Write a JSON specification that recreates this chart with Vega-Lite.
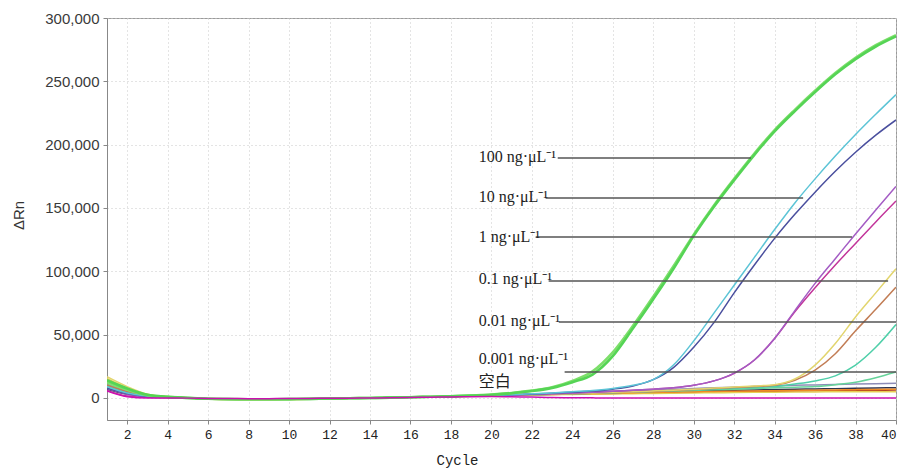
{
  "$schema": "https://vega.github.io/schema/vega-lite/v6.json",
  "width": 789,
  "height": 402,
  "autosize": "none",
  "padding": {"left": 107, "top": 18, "right": 8, "bottom": 51},
  "background": "white",
  "config": {
    "view": {"stroke": "#9a9a9a", "strokeWidth": 1},
    "axis": {"gridColor": "#c8c8c8", "gridDash": [1, 3], "gridWidth": 1, "domainColor": "#888", "tickColor": "#888", "tickSize": 4}
  },
  "datasets": {
    "curves": [
      {"c": 1, "g1": 14000, "g2": 12500, "cy": 9000, "nv": 8000, "pu": 7500, "mg": 6000, "ye": 16800, "br": 10300, "te": 9500, "lg": 11000, "f1": 8500, "f2": 7000, "f3": 10000, "f4": 15500, "f5": 9000, "f6": 5500},
      {"c": 2, "g1": 7500, "g2": 6500, "cy": 4000, "nv": 3500, "pu": 3000, "mg": 1500, "ye": 9000, "br": 5000, "te": 4500, "lg": 5500, "f1": 4000, "f2": 3000, "f3": 5000, "f4": 8000, "f5": 4000, "f6": 1000},
      {"c": 3, "g1": 2500, "g2": 2200, "cy": 1500, "nv": 1200, "pu": 1000, "mg": 500, "ye": 3000, "br": 1800, "te": 1500, "lg": 2000, "f1": 1500, "f2": 1000, "f3": 1800, "f4": 2700, "f5": 1500, "f6": 0},
      {"c": 4, "g1": 900, "g2": 850, "cy": 700, "nv": 600, "pu": 500, "mg": 200, "ye": 1000, "br": 800, "te": 700, "lg": 800, "f1": 700, "f2": 500, "f3": 800, "f4": 1000, "f5": 700, "f6": 0},
      {"c": 5, "g1": 100, "g2": 50, "cy": 0, "nv": 0, "pu": -100, "mg": -100, "ye": 0, "br": 100, "te": 0, "lg": 50, "f1": 0, "f2": 0, "f3": 100, "f4": 0, "f5": 50, "f6": -100},
      {"c": 6, "g1": -600, "g2": -550, "cy": -500, "nv": -500, "pu": -500, "mg": -400, "ye": -800, "br": -600, "te": -500, "lg": -600, "f1": -500, "f2": -500, "f3": -600, "f4": -800, "f5": -600, "f6": -300},
      {"c": 7, "g1": -900, "g2": -850, "cy": -800, "nv": -800, "pu": -700, "mg": -600, "ye": -1200, "br": -900, "te": -800, "lg": -900, "f1": -800, "f2": -700, "f3": -900, "f4": -1200, "f5": -900, "f6": -400},
      {"c": 8, "g1": -1000, "g2": -950, "cy": -900, "nv": -900, "pu": -800, "mg": -700, "ye": -1400, "br": -1000, "te": -900, "lg": -1000, "f1": -900, "f2": -800, "f3": -1000, "f4": -1400, "f5": -1000, "f6": -500},
      {"c": 9, "g1": -1000, "g2": -1000, "cy": -900, "nv": -900, "pu": -800, "mg": -700, "ye": -1400, "br": -1000, "te": -900, "lg": -1000, "f1": -900, "f2": -800, "f3": -1000, "f4": -1400, "f5": -1000, "f6": -500},
      {"c": 10, "g1": -900, "g2": -900, "cy": -800, "nv": -800, "pu": -700, "mg": -600, "ye": -1200, "br": -900, "te": -800, "lg": -900, "f1": -800, "f2": -700, "f3": -900, "f4": -1200, "f5": -900, "f6": -400},
      {"c": 11, "g1": -700, "g2": -700, "cy": -600, "nv": -600, "pu": -600, "mg": -500, "ye": -900, "br": -700, "te": -600, "lg": -700, "f1": -600, "f2": -600, "f3": -700, "f4": -900, "f5": -700, "f6": -300},
      {"c": 12, "g1": -400, "g2": -400, "cy": -400, "nv": -400, "pu": -300, "mg": -300, "ye": -500, "br": -400, "te": -400, "lg": -400, "f1": -400, "f2": -300, "f3": -400, "f4": -500, "f5": -400, "f6": -200},
      {"c": 13, "g1": -200, "g2": -200, "cy": -200, "nv": -200, "pu": -200, "mg": -200, "ye": -250, "br": -200, "te": -200, "lg": -200, "f1": -200, "f2": -200, "f3": -200, "f4": -250, "f5": -200, "f6": -100},
      {"c": 14, "g1": 0, "g2": 0, "cy": 0, "nv": 0, "pu": 0, "mg": 0, "ye": 0, "br": 0, "te": 0, "lg": 0, "f1": 0, "f2": 0, "f3": 0, "f4": 0, "f5": 0, "f6": 0},
      {"c": 15, "g1": 300, "g2": 300, "cy": 300, "nv": 300, "pu": 300, "mg": 300, "ye": 250, "br": 300, "te": 300, "lg": 300, "f1": 300, "f2": 300, "f3": 300, "f4": 250, "f5": 300, "f6": 200},
      {"c": 16, "g1": 650, "g2": 650, "cy": 600, "nv": 600, "pu": 600, "mg": 600, "ye": 550, "br": 600, "te": 600, "lg": 600, "f1": 600, "f2": 600, "f3": 600, "f4": 550, "f5": 600, "f6": 400},
      {"c": 17, "g1": 1000, "g2": 1000, "cy": 900, "nv": 900, "pu": 900, "mg": 900, "ye": 850, "br": 900, "te": 900, "lg": 900, "f1": 900, "f2": 900, "f3": 900, "f4": 850, "f5": 900, "f6": 600},
      {"c": 18, "g1": 1400, "g2": 1400, "cy": 1200, "nv": 1200, "pu": 1200, "mg": 1200, "ye": 1150, "br": 1200, "te": 1200, "lg": 1200, "f1": 1200, "f2": 1200, "f3": 1200, "f4": 1150, "f5": 1200, "f6": 800},
      {"c": 19, "g1": 1900, "g2": 2000, "cy": 1600, "nv": 1550, "pu": 1500, "mg": 1500, "ye": 1450, "br": 1500, "te": 1500, "lg": 1500, "f1": 1550, "f2": 1500, "f3": 1500, "f4": 1450, "f5": 1500, "f6": 1000},
      {"c": 20, "g1": 2600, "g2": 2700, "cy": 2050, "nv": 2000, "pu": 1900, "mg": 1900, "ye": 1850, "br": 1900, "te": 1900, "lg": 1850, "f1": 2000, "f2": 1950, "f3": 1900, "f4": 1850, "f5": 1900, "f6": 1100},
      {"c": 21, "g1": 3800, "g2": 4000, "cy": 2600, "nv": 2500, "pu": 2400, "mg": 2400, "ye": 2300, "br": 2300, "te": 2300, "lg": 2200, "f1": 2500, "f2": 2400, "f3": 2300, "f4": 2200, "f5": 2300, "f6": 1000},
      {"c": 22, "g1": 5500, "g2": 5800, "cy": 3300, "nv": 3100, "pu": 2900, "mg": 2900, "ye": 2700, "br": 2700, "te": 2700, "lg": 2600, "f1": 3000, "f2": 2750, "f3": 2550, "f4": 2400, "f5": 2600, "f6": 700},
      {"c": 23, "g1": 8000, "g2": 8500, "cy": 4000, "nv": 3800, "pu": 3400, "mg": 3400, "ye": 3100, "br": 3000, "te": 3000, "lg": 2900, "f1": 3500, "f2": 3100, "f3": 2800, "f4": 2600, "f5": 2900, "f6": 400},
      {"c": 24, "g1": 12500, "g2": 13500, "cy": 5000, "nv": 4500, "pu": 4000, "mg": 4000, "ye": 3500, "br": 3400, "te": 3400, "lg": 3300, "f1": 4000, "f2": 3450, "f3": 3050, "f4": 2800, "f5": 3200, "f6": 200},
      {"c": 25, "g1": 18500, "g2": 21000, "cy": 6000, "nv": 5500, "pu": 4600, "mg": 4600, "ye": 4000, "br": 3800, "te": 3800, "lg": 3700, "f1": 4500, "f2": 3800, "f3": 3300, "f4": 3000, "f5": 3500, "f6": 100},
      {"c": 26, "g1": 33000, "g2": 36000, "cy": 7500, "nv": 7000, "pu": 5300, "mg": 5300, "ye": 4500, "br": 4300, "te": 4300, "lg": 4200, "f1": 5100, "f2": 4150, "f3": 3550, "f4": 3200, "f5": 3800, "f6": 0},
      {"c": 27, "g1": 55000, "g2": 57000, "cy": 10000, "nv": 9500, "pu": 6200, "mg": 6200, "ye": 5000, "br": 4800, "te": 4800, "lg": 4700, "f1": 5700, "f2": 4500, "f3": 3800, "f4": 3400, "f5": 4100, "f6": 0},
      {"c": 28, "g1": 78000, "g2": 80000, "cy": 14500, "nv": 14500, "pu": 7000, "mg": 7000, "ye": 5600, "br": 5300, "te": 5300, "lg": 5100, "f1": 6300, "f2": 4850, "f3": 4050, "f4": 3600, "f5": 4400, "f6": 0},
      {"c": 29, "g1": 102000, "g2": 104000, "cy": 26000, "nv": 24000, "pu": 8000, "mg": 8000, "ye": 6200, "br": 6000, "te": 5900, "lg": 5500, "f1": 6900, "f2": 5200, "f3": 4300, "f4": 3800, "f5": 4700, "f6": 0},
      {"c": 30, "g1": 128000, "g2": 129000, "cy": 45000, "nv": 40000, "pu": 10000, "mg": 10000, "ye": 7000, "br": 6800, "te": 6500, "lg": 6000, "f1": 7500, "f2": 5500, "f3": 4500, "f4": 4000, "f5": 5000, "f6": 0},
      {"c": 31, "g1": 151000, "g2": 152000, "cy": 67000, "nv": 59500, "pu": 13500, "mg": 13500, "ye": 7800, "br": 7500, "te": 7000, "lg": 6500, "f1": 8000, "f2": 5800, "f3": 4700, "f4": 4150, "f5": 5200, "f6": 0},
      {"c": 32, "g1": 172000, "g2": 173000, "cy": 89000, "nv": 83000, "pu": 19700, "mg": 19500, "ye": 8600, "br": 8300, "te": 7600, "lg": 7000, "f1": 8500, "f2": 6100, "f3": 4900, "f4": 4300, "f5": 5400, "f6": 0},
      {"c": 33, "g1": 192000, "g2": 193000, "cy": 111000, "nv": 105000, "pu": 30000, "mg": 30000, "ye": 9500, "br": 9000, "te": 8200, "lg": 7500, "f1": 9000, "f2": 6400, "f3": 5100, "f4": 4450, "f5": 5600, "f6": 0},
      {"c": 34, "g1": 210500, "g2": 211500, "cy": 133000, "nv": 126000, "pu": 47000, "mg": 47000, "ye": 10500, "br": 10000, "te": 9000, "lg": 8000, "f1": 9500, "f2": 6700, "f3": 5300, "f4": 4600, "f5": 5800, "f6": 0},
      {"c": 35, "g1": 226500, "g2": 227500, "cy": 154000, "nv": 145000, "pu": 69000, "mg": 68000, "ye": 15000, "br": 14000, "te": 11000, "lg": 8500, "f1": 10000, "f2": 7000, "f3": 5500, "f4": 4700, "f5": 6000, "f6": 0},
      {"c": 36, "g1": 241500, "g2": 242500, "cy": 173000, "nv": 162500, "pu": 90500, "mg": 87000, "ye": 26000, "br": 22000, "te": 13500, "lg": 9000, "f1": 10300, "f2": 7200, "f3": 5650, "f4": 4800, "f5": 6200, "f6": 0},
      {"c": 37, "g1": 255500, "g2": 256500, "cy": 191000, "nv": 179000, "pu": 110000, "mg": 105000, "ye": 43000, "br": 35000, "te": 17500, "lg": 10500, "f1": 10600, "f2": 7400, "f3": 5800, "f4": 4900, "f5": 6400, "f6": 0},
      {"c": 38, "g1": 267500, "g2": 268500, "cy": 208000, "nv": 194000, "pu": 129500, "mg": 122000, "ye": 64000, "br": 53000, "te": 26000, "lg": 12500, "f1": 11000, "f2": 7650, "f3": 5950, "f4": 4950, "f5": 6600, "f6": 0},
      {"c": 39, "g1": 277500, "g2": 278500, "cy": 224000, "nv": 207500, "pu": 148500, "mg": 139000, "ye": 83000, "br": 70000, "te": 40000, "lg": 16000, "f1": 11300, "f2": 7900, "f3": 6100, "f4": 5000, "f5": 6800, "f6": 0},
      {"c": 40, "g1": 285500, "g2": 286500, "cy": 239500, "nv": 219500, "pu": 167000, "mg": 155500, "ye": 102000, "br": 87500, "te": 58000, "lg": 20500, "f1": 11600, "f2": 8100, "f3": 6300, "f4": 5000, "f5": 7000, "f6": 0}
    ],
    "rules": [
      {"x": 23.28, "x2": 32.83, "y": 189500},
      {"x": 22.68, "x2": 35.41, "y": 157900},
      {"x": 22.19, "x2": 37.83, "y": 127100},
      {"x": 22.83, "x2": 39.61, "y": 92400},
      {"x": 23.33, "x2": 40, "y": 60000},
      {"x": 23.62, "x2": 40, "y": 20500}
    ],
    "labels": [
      {"x": 19.37, "y": 190200, "t": "100 ng·μL⁻¹"},
      {"x": 19.37, "y": 158700, "t": "10 ng·μL⁻¹"},
      {"x": 19.37, "y": 127100, "t": "1 ng·μL⁻¹"},
      {"x": 19.37, "y": 94000, "t": "0.1 ng·μL⁻¹"},
      {"x": 19.37, "y": 60800, "t": "0.01 ng·μL⁻¹"},
      {"x": 19.37, "y": 30800, "t": "0.001 ng·μL⁻¹"},
      {"x": 19.37, "y": 12600, "t": "空白"}
    ]
  },
  "layer": [
    {
      "data": {"name": "curves"},
      "transform": [{"fold": ["f1", "f2", "f3", "f4", "f5", "lg", "te", "br", "ye", "mg", "pu", "nv", "cy", "g2", "g1", "f6"], "as": ["s", "v"]}],
      "mark": {"type": "line", "interpolate": "monotone", "clip": true},
      "encoding": {
        "x": {
          "field": "c", "type": "quantitative",
          "scale": {"domain": [1, 40], "nice": false, "zero": false},
          "axis": {
            "title": "Cycle", "values": [2, 4, 6, 8, 10, 12, 14, 16, 18, 20, 22, 24, 26, 28, 30, 32, 34, 36, 38, 40],
            "labelFont": "Liberation Mono", "labelFontSize": 13, "labelColor": "#222", "labelPadding": 4,
            "titleFont": "Liberation Mono", "titleFontSize": 14, "titleFontWeight": "normal", "titleColor": "#222",
            "titleX": 350, "titleY": 40, "titleBaseline": "middle"
          }
        },
        "y": {
          "field": "v", "type": "quantitative",
          "scale": {"domain": [-17370, 300000], "nice": false, "zero": false},
          "axis": {
            "title": "ΔRn", "values": [0, 25000, 50000, 75000, 100000, 125000, 150000, 175000, 200000, 225000, 250000, 275000, 300000],
            "format": ",d", "labelFont": "Liberation Sans", "labelFontSize": 15, "labelColor": "#3a3a3a", "labelPadding": 4,
            "titleFont": "Liberation Sans", "titleFontSize": 15, "titleFontWeight": "normal", "titleColor": "#333",
            "titleAngle": -90, "titleX": -89, "titleY": 197, "titleAlign": "center", "titleBaseline": "middle"
          }
        },
        "color": {
          "field": "s", "type": "nominal", "legend": null,
          "scale": {
            "domain": ["g1", "g2", "cy", "nv", "pu", "mg", "ye", "br", "te", "lg", "f1", "f2", "f3", "f4", "f5", "f6"],
            "range": ["#55d455", "#7ddf6a", "#5cc4d6", "#4a4f9e", "#a45cc4", "#c2349a", "#e2d56e", "#c27d55", "#4fcfa9", "#66d39a", "#8d8db8", "#2f3550", "#b5411e", "#e6cf55", "#f08a24", "#cc10b0"]
          }
        },
        "strokeWidth": {"condition": {"test": "datum.s == 'g1' || datum.s == 'g2'", "value": 2.6}, "value": 1.5}
      }
    },
    {
      "data": {"name": "rules"},
      "mark": {"type": "rule", "color": "#555555", "strokeWidth": 1.5},
      "encoding": {
        "x": {"field": "x", "type": "quantitative", "title": "Cycle"},
        "x2": {"field": "x2"},
        "y": {"field": "y", "type": "quantitative", "title": "ΔRn"}
      }
    },
    {
      "data": {"name": "labels"},
      "mark": {"type": "text", "align": "left", "baseline": "middle", "font": "Liberation Serif, Noto Sans CJK SC", "fontSize": 16, "color": "#222"},
      "encoding": {
        "x": {"field": "x", "type": "quantitative", "title": "Cycle"},
        "y": {"field": "y", "type": "quantitative", "title": "ΔRn"},
        "text": {"field": "t"}
      }
    }
  ]
}
